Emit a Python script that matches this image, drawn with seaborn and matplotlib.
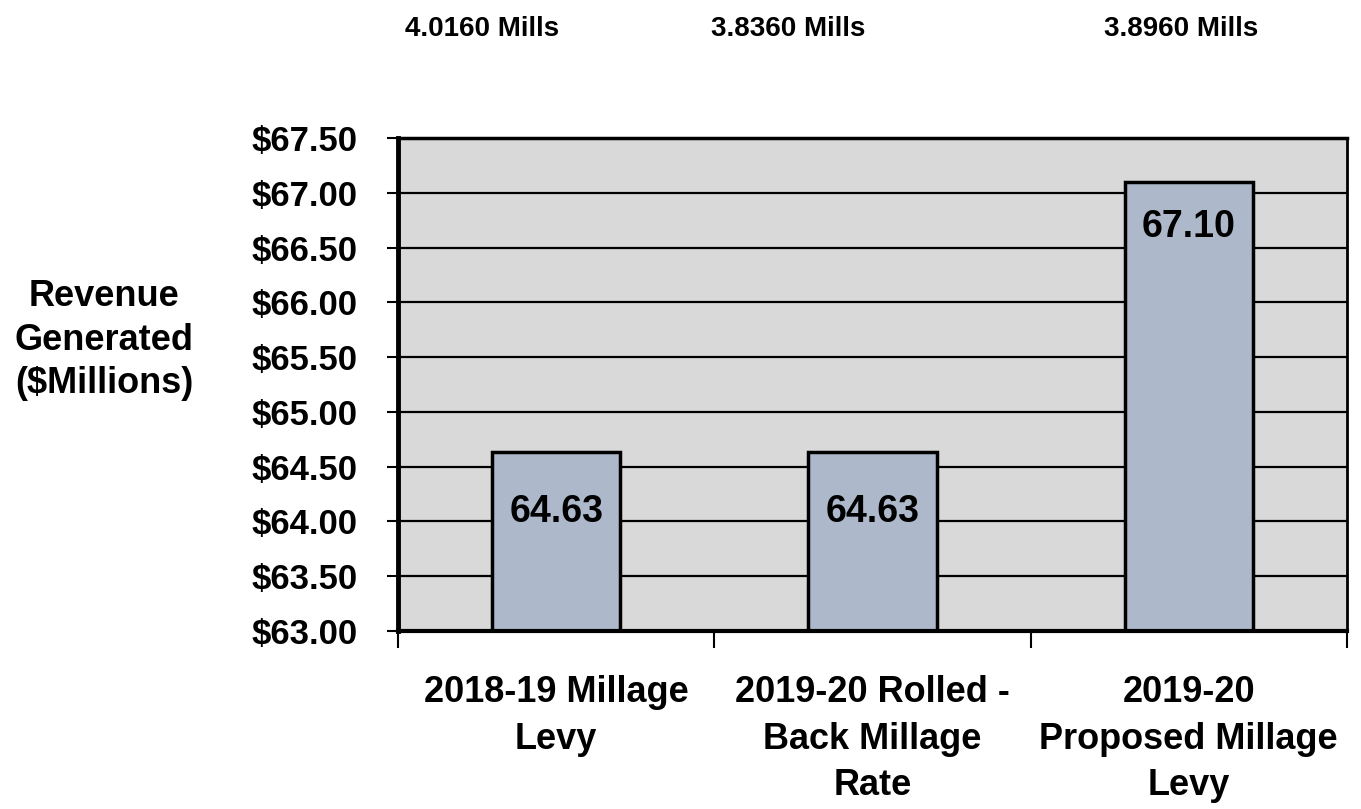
import pandas as pd
import seaborn as sns
import matplotlib.pyplot as plt
from matplotlib.ticker import FixedLocator

categories = ["2018-19 Millage\nLevy", "2019-20 Rolled -\nBack Millage\nRate", "2019-20\nProposed Millage\nLevy"]
revenue = [64.63, 64.63, 67.10]
mills = ["4.0160 Mills", "3.8360 Mills", "3.8960 Mills"]
y_ticks = [63.0, 63.5, 64.0, 64.5, 65.0, 65.5, 66.0, 66.5, 67.0, 67.5]

df = pd.DataFrame({"category": categories, "revenue": revenue})

sns.set_style("white")
plt.rcParams["font.family"] = ["Liberation Sans", "DejaVu Sans"]
plt.rcParams["font.weight"] = "bold"
plt.rcParams["text.color"] = "black"
plt.rcParams["xtick.labelcolor"] = "black"
plt.rcParams["ytick.labelcolor"] = "black"

fig = plt.figure(figsize=(13.61, 8.09), dpi=100)
ax = fig.add_axes([0.2924, 0.2200, 0.6973, 0.6094])
ax.set_facecolor("#D9D9D9")

for t in y_ticks[1:-1]:
    ax.axhline(t, color="black", lw=1.6, zorder=0.5)

sns.barplot(data=df, x="category", y="revenue", color="#ADB9CA", width=0.405,
            edgecolor="black", linewidth=2.5, saturation=1, ax=ax, zorder=2)

ax.set_ylim(63.0, 67.5)
ax.set_xlim(-0.5, 2.5)
ax.set_yticks(y_ticks)
ax.set_yticklabels([f"${v:.2f}" for v in y_ticks], fontsize=25, fontweight="bold")
ax.set_xticks(range(len(categories)))
ax.set_xticklabels(categories, fontsize=26, fontweight="bold", linespacing=1.42)
ax.tick_params(axis="x", which="major", length=0, pad=32)
ax.xaxis.set_minor_locator(FixedLocator([-0.5, 0.5, 1.5, 2.5]))
ax.tick_params(axis="x", which="minor", length=12, width=1.5, color="black", bottom=True)
ax.tick_params(axis="y", length=8, width=1.5, color="black", left=True, pad=21)
ax.set_xlabel("")
ax.set_ylabel("")

for side, w in [("left", 3.5), ("bottom", 3), ("top", 2.5), ("right", 2)]:
    ax.spines[side].set_visible(True)
    ax.spines[side].set_color("black")
    ax.spines[side].set_linewidth(w)

# value labels sit inside the bar, a little below its top
offsets = [0.635, 0.635, 0.504]
for i, v in enumerate(revenue):
    ax.text(i, v - offsets[i], f"{v:.2f}", ha="center", va="baseline",
            fontsize=27, fontweight="bold", zorder=3)

# millage rates above the plot
mills_x = [482, 788, 1181]
for x, m in zip(mills_x, mills):
    fig.text(x / 1361, 1 - 36 / 809, m, ha="center", va="baseline",
             fontsize=20, fontweight="bold")

fig.text(104 / 1361, 1 - 340 / 809, "Revenue\nGenerated\n($Millions)", ha="center", va="center",
         fontsize=26, fontweight="bold", linespacing=1.3)

fig.savefig("out.png", dpi=100)
